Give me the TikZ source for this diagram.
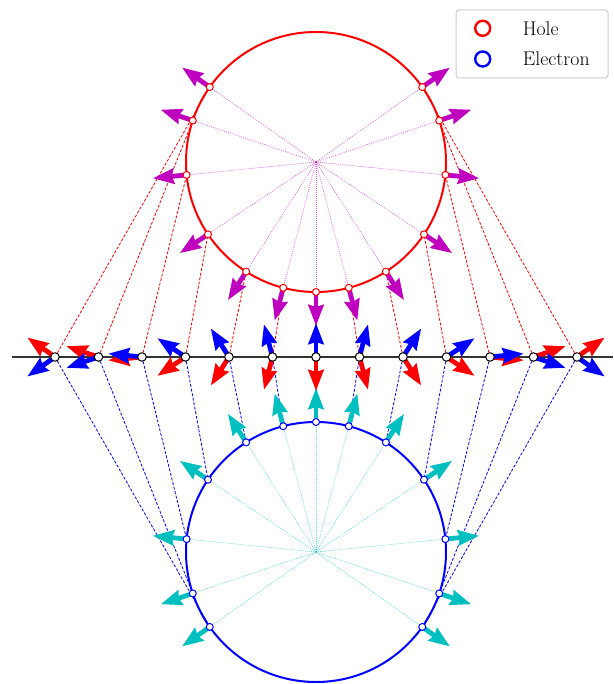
\documentclass[tikz,border=0pt]{standalone}
\usepackage{tikz}
\usetikzlibrary{
    arrows.meta,
    positioning,
    calc
}

\definecolor{mpmagenta}{rgb}{0.75,0,0.75}
\definecolor{mpcyan}{rgb}{0,0.75,0.75}

\begin{document}
\begin{tikzpicture}[
    x=1pt, y=1pt,
    spin/.style={
        line width=4.8pt,
        -{Stealth[length=21pt,width=15pt,inset=2pt]}
    },
    link/.style={line width=0.8pt, dash pattern=on 3pt off 1.6pt},
    spoke/.style={line width=0.8pt, dash pattern=on 0.8pt off 1.2pt, opacity=0.6},
    sphere/.style={line width=2pt},
    dot/.style={
        circle,
        draw,
        fill=white,
        inner sep=0pt,
        minimum size=7pt,
        line width=1pt
    },
    site/.style={dot, draw=black, minimum size=8.5pt},
    key/.style={
        circle,
        draw,
        inner sep=0pt,
        minimum size=15pt,
        line width=2.4pt
    }
]
\useasboundingbox (-316,-327) rectangle (297,357);

% centres of the two circles and ends of the axis
\coordinate (cu) at (0,195);
\coordinate (cl) at (0,-195);
\coordinate (axl) at (-304,0);
\coordinate (axr) at (297,0);

% lattice sites, circle points and arrow tips
\foreach \k/\t in {-6/-125.2,-5/-108.6,-4/-84.3,-3/-56.2,-2/-32.5,-1/-14.6,0/0,
                   1/14.6,2/32.5,3/56.2,4/84.3,5/108.6,6/125.2} {
    \coordinate (a\k) at (43.5*\k,0);
    \path (cu) ++({-90+(\t)}:130) coordinate (u\k) ++({-90+(\t)}:34) coordinate (ut\k);
    \path (cl) ++({90-(\t)}:130) coordinate (l\k) ++({90-(\t)}:34) coordinate (lt\k);
    \path (a\k) ++({-90+(\t)}:34) coordinate (ra\k);
    \path (a\k) ++({90-(\t)}:34) coordinate (ba\k);
}

\draw[line width=1.5pt, black!80] (axl) -- (axr);

\foreach \k in {-6,...,6} {
    \draw[link, red] (a\k) -- (u\k);
    \draw[link, blue] (a\k) -- (l\k);
    \draw[spoke, mpmagenta] (cu) -- (u\k);
    \draw[spoke, mpcyan] (cl) -- (l\k);
}

\draw[sphere, red] (cu) circle (130);
\draw[sphere, blue] (cl) circle (130);

\foreach \k in {-6,...,6} {
    \draw[spin, mpmagenta] (u\k) -- (ut\k);
    \draw[spin, mpcyan] (l\k) -- (lt\k);
    \draw[spin, red] (a\k) -- (ra\k);
    \draw[spin, blue] (a\k) -- (ba\k);
}

\foreach \k in {-6,...,6} {
    \node[dot, draw=red] (mu\k) at (u\k) {};
    \node[dot, draw=blue] (ml\k) at (l\k) {};
    \node[site] (ma\k) at (a\k) {};
}

% legend
\node[draw=black!20, line width=1pt, rounded corners=3pt,
      minimum width=152pt, minimum height=68pt] (legend) at (216,313) {};
\node[key, draw=red] (khole) at (166.7,328.7) {};
\node[key, draw=blue] (kelec) at (166.7,298) {};
\node[right=28pt of khole, font=\fontsize{19.8}{23}\selectfont] (thole) {Hole};
\node[right=28pt of kelec, font=\fontsize{19.8}{23}\selectfont] (telec) {Electron};

\end{tikzpicture}
\end{document}
